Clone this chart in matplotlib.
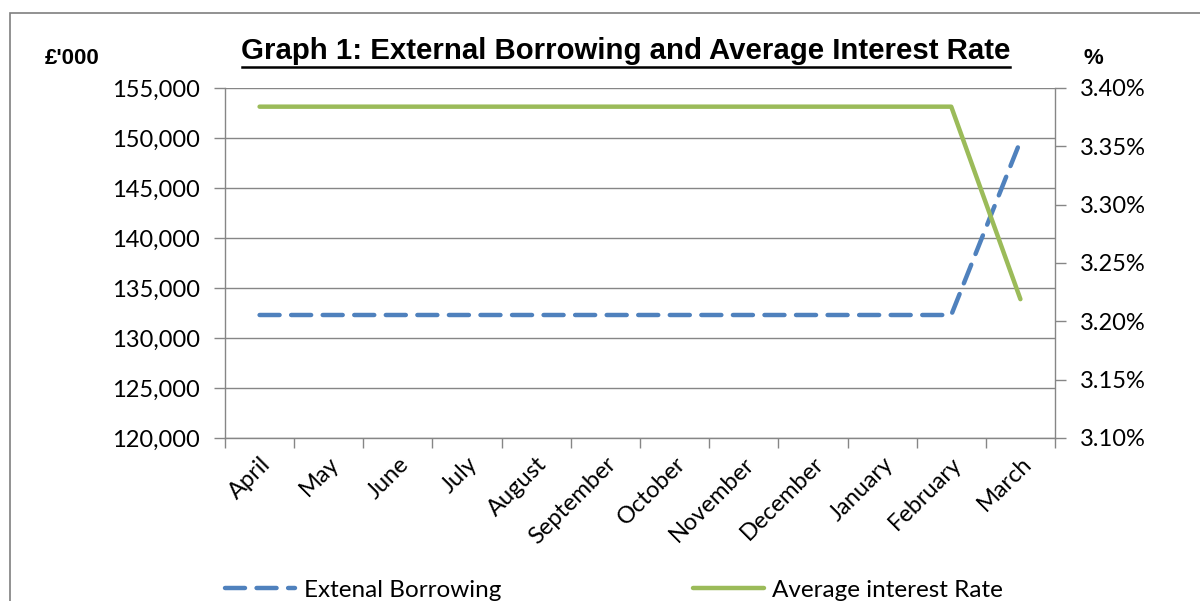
import matplotlib
matplotlib.use("Agg")
import matplotlib.pyplot as plt
from matplotlib.patches import Rectangle
from matplotlib.ticker import FixedLocator, FuncFormatter

months = ["April", "May", "June", "July", "August", "September", "October",
          "November", "December", "January", "February", "March"]
borrowing = [132300, 132300, 132300, 132300, 132300, 132300, 132300,
             132300, 132300, 132300, 132300, 149700]
interest = [3.384, 3.384, 3.384, 3.384, 3.384, 3.384, 3.384,
            3.384, 3.384, 3.384, 3.384, 3.219]

blue = "#4F81BD"
green = "#9BBB59"
grey = "#868686"
font = "Lato"

fig = plt.figure(figsize=(12, 6.01), dpi=100)
fig.patches.append(Rectangle((10 / 1200, -0.1), 1.2, 1 - 13 / 601 + 0.1,
                             transform=fig.transFigure, fill=False,
                             edgecolor="#7f7f7f", linewidth=1.2))

ax = fig.add_axes([225 / 1200, 1 - 438 / 601, 830 / 1200, 350 / 601])
ax2 = ax.twinx()

x = list(range(len(months)))
l1, = ax.plot(x, borrowing, color=blue, linewidth=3.2, linestyle=(0, (4.5, 2.6)),
              dash_capstyle="round", label="Extenal Borrowing")
l2, = ax2.plot(x, interest, color=green, linewidth=3.2, solid_capstyle="round",
               label="Average interest Rate")

ax.set_xlim(-0.5, 11.5)
ax.set_ylim(120000, 155000)
ax.set_yticks(range(120000, 155001, 5000))
ax.yaxis.set_major_formatter(FuncFormatter(lambda v, p: f"{int(v):,}"))
ax.grid(axis="y", color=grey, linewidth=1)
ax.set_axisbelow(True)

ax2.set_ylim(3.10, 3.40)
ax2.set_yticks([3.10, 3.15, 3.20, 3.25, 3.30, 3.35, 3.40])
ax2.yaxis.set_major_formatter(FuncFormatter(lambda v, p: f"{v:.2f}%"))

ax.xaxis.set_major_locator(FixedLocator([i - 0.5 for i in range(13)]))
ax.xaxis.set_major_formatter(FuncFormatter(lambda v, p: ""))
ax.xaxis.set_minor_locator(FixedLocator(x))
ax.set_xticklabels(months, minor=True, rotation=45, ha="right", va="top",
                   rotation_mode="anchor", fontsize=17, family=font)
ax.tick_params(axis="x", which="major", length=7, color=grey, width=1)
ax.tick_params(axis="x", which="minor", length=0, pad=11)

ax.tick_params(axis="y", length=8, color=grey, width=1, labelsize=17, pad=10)
ax2.tick_params(axis="y", length=8, color=grey, width=1, labelsize=17, pad=10)
for lab in ax.get_yticklabels() + ax2.get_yticklabels():
    lab.set_family(font)

for a in (ax, ax2):
    a.spines["top"].set_visible(False)
    for s in ("left", "right", "bottom"):
        a.spines[s].set_color(grey)
        a.spines[s].set_linewidth(1)
ax.spines["right"].set_visible(False)
ax2.spines["left"].set_visible(False)
ax2.spines["bottom"].set_visible(False)

fig.text(626 / 1200, 1 - 51 / 601, "Graph 1: External Borrowing and Average Interest Rate",
         ha="center", va="center", fontsize=21.2, fontweight="bold",
         family="Liberation Sans")
fig.add_artist(plt.Line2D([242 / 1200, 1010 / 1200], [1 - 67 / 601, 1 - 67 / 601],
                          color="black", linewidth=1.8))
fig.text(45 / 1200, 1 - 58 / 601, "£'000", ha="left", va="center", fontsize=16,
         fontweight="bold", family="Liberation Sans")
fig.text(1093 / 1200, 1 - 58 / 601, "%", ha="center", va="center", fontsize=16,
         fontweight="bold", family="Liberation Sans")

fig.legend([l1, l2], ["Extenal Borrowing", "Average interest Rate"],
           loc="center left", bbox_to_anchor=(215 / 1200, 1 - 590 / 601),
           ncol=2, frameon=False, handlelength=2.9, handletextpad=0.35,
           columnspacing=7.9, borderaxespad=0, prop={"family": font, "size": 17.5})

fig.savefig("out.png", dpi=100)
